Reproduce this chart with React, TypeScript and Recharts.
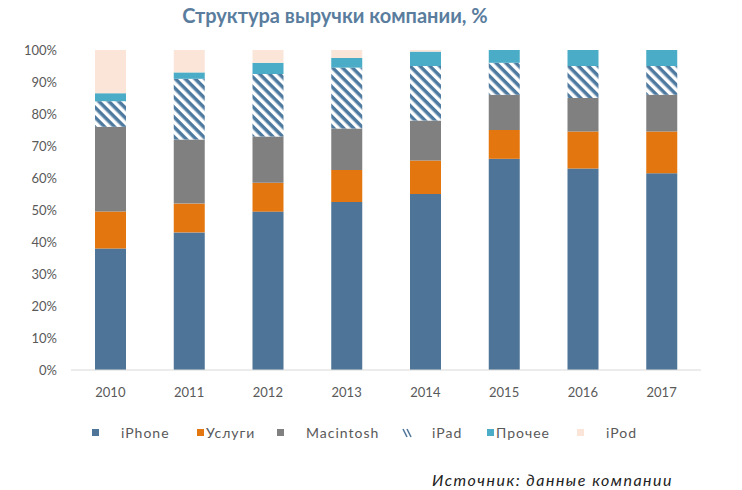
import React from 'react';
import { BarChart, Bar, XAxis, YAxis } from 'recharts';

const years = ['2010', '2011', '2012', '2013', '2014', '2015', '2016', '2017'];
const iphone = [38, 43, 49.5, 52.5, 55, 66, 63, 61.5];
const services = [11.5, 9, 9, 10, 10.5, 9, 11.5, 13];
const mac = [26.5, 20, 14.5, 13, 12.5, 11, 10.5, 11.5];
const ipad = [8, 19, 19.5, 19, 17, 10, 10, 9];
const other = [2.5, 2, 3.5, 3, 4.5, 4, 5, 5];
const ipod = [13.5, 7, 4, 2.5, 0.5, 0, 0, 0];
const yTicks = [0, 10, 20, 30, 40, 50, 60, 70, 80, 90, 100];

const series = [
    { key: 'iphone', name: 'iPhone', color: '#4e7598' },
    { key: 'services', name: 'Услуги', color: '#e4760f' },
    { key: 'mac', name: 'Macintosh', color: '#808080' },
    { key: 'ipad', name: 'iPad', color: 'url(#ipadHatch)' },
    { key: 'other', name: 'Прочее', color: '#4aacc6' },
    { key: 'ipod', name: 'iPod', color: '#fbe5d8' },
];

// legend layout, Excel style: column width and marker-to-text gap
const legendCols = [105, 80, 125, 85, 90, 60];
const legendGaps = [22, 2, 22, 22, 2, 22];

const data = years.map((y, i) => ({
    year: y,
    iphone: iphone[i],
    services: services[i],
    mac: mac[i],
    ipad: ipad[i],
    other: other[i],
    ipod: ipod[i],
}));

const font = 'Lato, "DejaVu Sans", sans-serif';

const Marker = ({ color, gap }: { color: string; gap: number }) => {
    if (color.startsWith('url')) {
        return (
            <svg width={10} height={10} style={{ marginRight: gap - 2 }}>
                <line x1={1} y1={1} x2={5} y2={9} stroke="#4e7598" strokeWidth={1.5} />
                <line x1={5} y1={1} x2={9} y2={9} stroke="#4e7598" strokeWidth={1.5} />
            </svg>
        );
    }
    return <span style={{ display: 'inline-block', width: 7, height: 7, background: color, marginRight: gap }} />;
};

export default function App() {
    return (
        <div style={{ position: 'absolute', left: 0, top: 0, width: 742, height: 490, background: '#fff', fontFamily: font }}>
            <div style={{ position: 'absolute', left: 0, top: 3, width: 670, textAlign: 'center', fontSize: 20, fontWeight: 700, color: '#5a7d9e' }}>
                Структура выручки компании, %
            </div>
            <BarChart width={742} height={490} data={data} margin={{ top: 50, right: 41, bottom: 90, left: 0 }}>
                <defs>
                    <pattern id="ipadHatch" patternUnits="userSpaceOnUse" width={7} height={7} patternTransform="rotate(45)">
                        <rect x={0} y={0} width={7} height={7} fill="#ffffff" />
                        <rect x={0} y={0} width={7} height={3.5} fill="#4e7aa0" />
                    </pattern>
                </defs>
                <XAxis
                    dataKey="year"
                    axisLine={{ stroke: '#d9d9d9' }}
                    tickLine={false}
                    tickMargin={12}
                    tick={{ fill: '#595959', fontSize: 13, fontFamily: font }}
                    height={30}
                />
                <YAxis
                    domain={[0, 100]}
                    ticks={yTicks}
                    tickFormatter={(v) => `${v}%`}
                    axisLine={false}
                    tickLine={false}
                    tickMargin={8}
                    width={71}
                    interval={0}
                    tick={{ fill: '#595959', fontSize: 13, fontFamily: font }}
                />
                {series.map(s => (
                    <Bar key={s.key} dataKey={s.key} name={s.name} stackId="a" fill={s.color} barSize={31} isAnimationActive={false} />
                ))}
            </BarChart>
            <div style={{ position: 'absolute', left: 92, top: 424, display: 'flex', alignItems: 'center', fontSize: 14, color: '#595959', letterSpacing: 1 }}>
                {series.map((s, i) => (
                    <div key={s.key} style={{ display: 'flex', alignItems: 'center', width: legendCols[i] }}>
                        <Marker color={s.color} gap={legendGaps[i]} />
                        <span>{s.name}</span>
                    </div>
                ))}
            </div>
            <div style={{ position: 'absolute', right: 69, top: 470, fontSize: 16, fontStyle: 'italic', color: '#222', letterSpacing: 1.5 }}>
                Источник: данные компании
            </div>
        </div>
    );
}
